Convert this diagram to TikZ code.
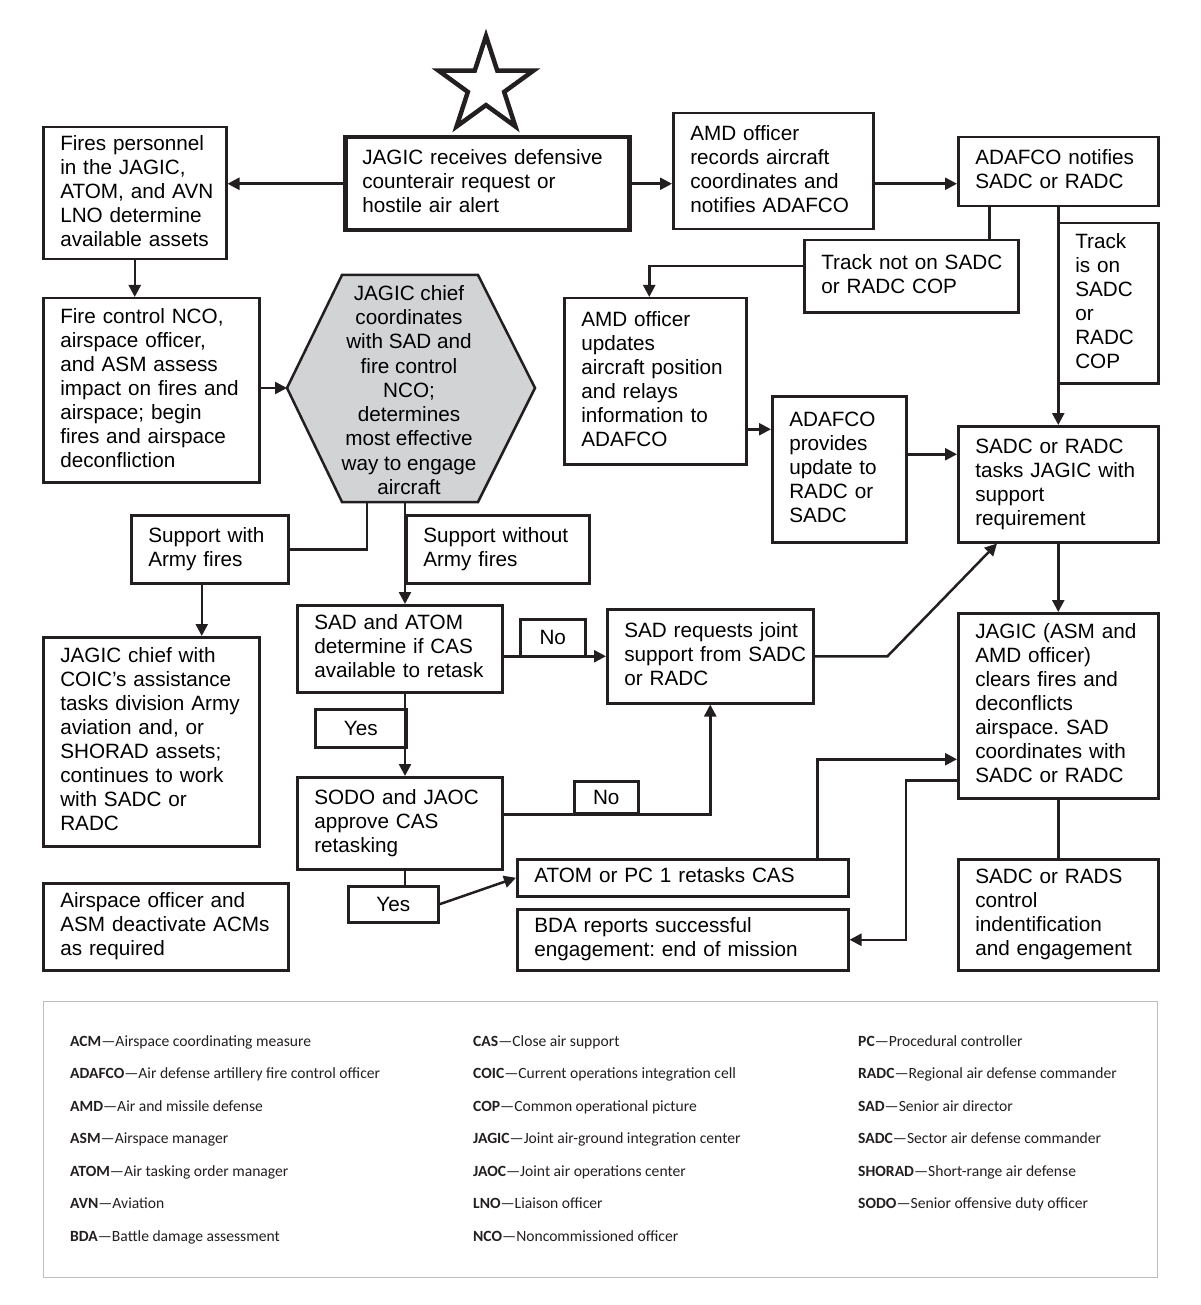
\documentclass[tikz,border=0pt]{standalone}
\usepackage{fontspec}
\setmainfont{Liberation Sans}
\newfontfamily\legendfont{Carlito}
\usepackage{tikz}
\usetikzlibrary{arrows.meta,calc,shapes.geometric}
\definecolor{ink}{HTML}{231F20}
\definecolor{hexgray}{HTML}{D1D3D4}
\definecolor{rulegray}{HTML}{BCBEC0}
\newcommand{\stack}[1]{\begin{tabular}{@{}l@{}}#1\end{tabular}}
\frenchspacing

\begin{document}
\begin{tikzpicture}[
    x=1pt, y=-1pt,
    box/.style={draw=ink, line width=2.5pt, anchor=north west, inner xsep=17pt, inner ysep=0pt, align=left, font=\fontsize{20.7}{24}\selectfont},
    tag/.style={draw=ink, line width=2.5pt, anchor=north west, inner sep=0pt, align=center, font=\fontsize{20.7}{24}\selectfont},
    link/.style={draw=ink, line width=2.5pt},
    arr/.style={link, -{Triangle[length=12pt,width=12pt]}},
    term/.style={anchor=base west, inner sep=0pt, text=ink, font=\legendfont\fontsize{15.6}{18}\selectfont}
]
\useasboundingbox (0,0) rectangle (1200,1305);

% start marker
\node[star, star points=5, star point ratio=2.618, draw=ink, line width=4.5pt, inner sep=0pt, minimum size=100pt] (start) at (486,86) {};

% top row
\node[box, line width=4.5pt, text width=250pt, minimum height=93pt] (recv) at (343,135) {\stack{JAGIC receives defensive\\counterair request or\\hostile air alert}};
\node[box, text width=149pt, minimum height=132pt] (fires) at (42,126) {\stack{Fires personnel\\in the JAGIC,\\ATOM, and AVN\\LNO determine\\available assets}};
\node[box, text width=166pt, minimum height=116pt] (amdrec) at (672,112) {\stack{AMD officer\\records aircraft\\coordinates and\\notifies ADAFCO}};
\node[box, text width=166pt, minimum height=69pt] (notify) at (957,136) {\stack{ADAFCO notifies\\SADC or RADC}};

% track branches
\node[box, text width=180pt, minimum height=72pt] (trackno) at (803,239) {\stack{Track not on SADC\\or RADC COP}};
\node[box, text width=66pt, minimum height=160pt] (trackyes) at (1057,222) {\stack{Track\\is on\\SADC\\or\\RADC\\COP}};
\node[box, text width=148pt, minimum height=166pt] (amdupd) at (563,297) {\stack{AMD officer\\updates\\aircraft position\\and relays\\information to\\ADAFCO}};
\node[box, text width=100pt, minimum height=146pt] (provide) at (771,395) {\stack{ADAFCO\\provides\\update to\\RADC or\\SADC}};
\node[box, text width=166pt, minimum height=116pt] (tasks) at (957,425) {\stack{SADC or RADC\\tasks JAGIC with\\support\\requirement}};

% left column
\node[box, text width=182pt, minimum height=184pt] (firectl) at (42,297) {\stack{Fire control NCO,\\airspace officer,\\and ASM assess\\impact on fires and\\airspace; begin\\fires and airspace\\deconfliction}};

% decision hexagon
\coordinate (hexL) at (287,388);
\coordinate (hexTL) at (342,275);
\coordinate (hexTR) at (478,275);
\coordinate (hexR) at (535,388);
\coordinate (hexBR) at (478,502);
\coordinate (hexBL) at (342,502);
\coordinate (hexB1) at (367,502);
\coordinate (hexB2) at (405,502);
\draw[link, fill=hexgray] (hexL) -- (hexTL) -- (hexTR) -- (hexR) -- (hexBR) -- (hexBL) -- cycle;
\node[align=center, inner sep=0pt, font=\fontsize{20.7}{24.25}\selectfont] (hex) at (409,390) {JAGIC chief\\coordinates\\with SAD and\\fire control\\NCO;\\determines\\most effective\\way to engage\\aircraft};

\node[box, text width=123pt, minimum height=68pt] (suparmy) at (130,514) {\stack{Support with\\Army fires}};
\node[box, text width=149pt, minimum height=68pt] (supno) at (405,514) {\stack{Support without\\Army fires}};
\node[box, text width=182pt, minimum height=209pt] (chief) at (42,636) {\stack{JAGIC chief with\\COIC’s assistance\\tasks division Army\\aviation and, or\\SHORAD assets;\\continues to work\\with SADC or\\RADC}};
\node[box, text width=211pt, minimum height=87pt] (acm) at (42,882) {\stack{Airspace officer and\\ASM deactivate ACMs\\as required}};

% CAS branch
\node[box, text width=171pt, minimum height=87pt] (cas) at (296,604) {\stack{SAD and ATOM\\determine if CAS\\available to retask}};
\node[tag, minimum width=65pt, minimum height=37pt] (no1) at (519,618) {No};
\node[box, text width=172pt, minimum height=94pt] (joint) at (606,608) {\stack{SAD requests joint\\support from SADC\\or RADC}};
\node[tag, minimum width=91pt, minimum height=38pt] (yes1) at (314,708) {Yes};
\node[box, text width=171pt, minimum height=92pt] (sodo) at (296,776) {\stack{SODO and JAOC\\approve CAS\\retasking}};
\node[tag, minimum width=64pt, minimum height=32pt] (no2) at (573,780) {No};
\node[tag, minimum width=90pt, minimum height=36pt] (yes2) at (347,885) {Yes};
\node[box, text width=297pt, minimum height=37pt] (retask) at (516,858) {\stack{ATOM or PC 1 retasks CAS}};
\node[box, text width=297pt, minimum height=61pt] (bda) at (516,908) {\stack{BDA reports successful\\engagement: end of mission}};

% right column
\node[box, text width=166pt, minimum height=185pt] (clear) at (957,612) {\stack{JAGIC (ASM and\\AMD officer)\\clears fires and\\deconflicts\\airspace. SAD\\coordinates with\\SADC or RADC}};
\node[box, text width=166pt, minimum height=111pt] (ctrl) at (957,858) {\stack{SADC or RADS\\control\\indentification\\and engagement}};

% connectors
\draw[arr] (recv.west) -- (recv.west -| fires.east);
\draw[arr] (recv.east) -- (recv.east -| amdrec.west);
\draw[arr] (amdrec.east |- recv.east) -- (recv.east -| notify.west);
\draw[link] ([xshift=-69pt]notify.south) -- ([xshift=-69pt]notify.south |- trackno.north);
\draw[arr] ([yshift=10pt]trackno.west) -| ([xshift=-6pt]amdupd.north);
\draw[arr] (notify.south) -- (tasks.north);
\draw[arr] ([yshift=-48pt]amdupd.east) -- ([yshift=-48pt]amdupd.east -| provide.west);
\draw[arr] ([yshift=15pt]provide.east) -- ([yshift=15pt]provide.east -| tasks.west);
\draw[arr] (fires.south) -- (fires.south |- firectl.north);
\draw[arr] (firectl.east |- hexL) -- (hexL);
\draw[link] (hexB1) |- (suparmy.east);
\draw[arr] (hexB2) -- (hexB2 |- cas.north);
\draw[arr] ([xshift=-8pt]suparmy.south) -- ([xshift=-8pt]suparmy.south |- chief.north);
\draw[arr] (cas.east |- joint.west) -- (joint.west);
\draw[arr] (joint.east) -- ++(73,0) -- ([xshift=40pt]tasks.south west);
\draw[arr] (hexB2 |- cas.south) -- (hexB2 |- sodo.north);
\draw[arr] (sodo.east |- no2.south) -| (joint.south);
\draw[link] (hexB2 |- sodo.south) -- (hexB2 |- yes2.north);
\draw[arr] (yes2.east) -- (retask.west);
\draw[arr] ([xshift=-32pt]retask.north east) |- ([yshift=-53.5pt]clear.west);
\draw[arr] ([yshift=-74.5pt]clear.west) -- ++(-51,0) |- (bda.east);
\draw[arr] (tasks.south) -- (clear.north);
\draw[link] (clear.south) -- (ctrl.north);

% legend
\node[draw=rulegray, line width=1pt, anchor=north west, inner sep=0pt, minimum width=1114pt, minimum height=276pt] (legend) at (43,1001) {};
\foreach \abbr/\desc [count=\i from 0] in {ACM/Airspace coordinating measure, ADAFCO/Air defense artillery fire control officer, AMD/Air and missile defense, ASM/Airspace manager, ATOM/Air tasking order manager, AVN/Aviation, BDA/Battle damage assessment}
    \node[term] (key-\abbr) at (70,1046+32.5*\i) {\textbf{\abbr}—\desc};
\foreach \abbr/\desc [count=\i from 0] in {CAS/Close air support, COIC/Current operations integration cell, COP/Common operational picture, JAGIC/Joint air-ground integration center, JAOC/Joint air operations center, LNO/Liaison officer, NCO/Noncommissioned officer}
    \node[term] (key-\abbr) at (473,1046+32.5*\i) {\textbf{\abbr}—\desc};
\foreach \abbr/\desc [count=\i from 0] in {PC/Procedural controller, RADC/Regional air defense commander, SAD/Senior air director, SADC/Sector air defense commander, SHORAD/Short-range air defense, SODO/Senior offensive duty officer}
    \node[term] (key-\abbr) at (858,1046+32.5*\i) {\textbf{\abbr}—\desc};
\end{tikzpicture}
\end{document}
